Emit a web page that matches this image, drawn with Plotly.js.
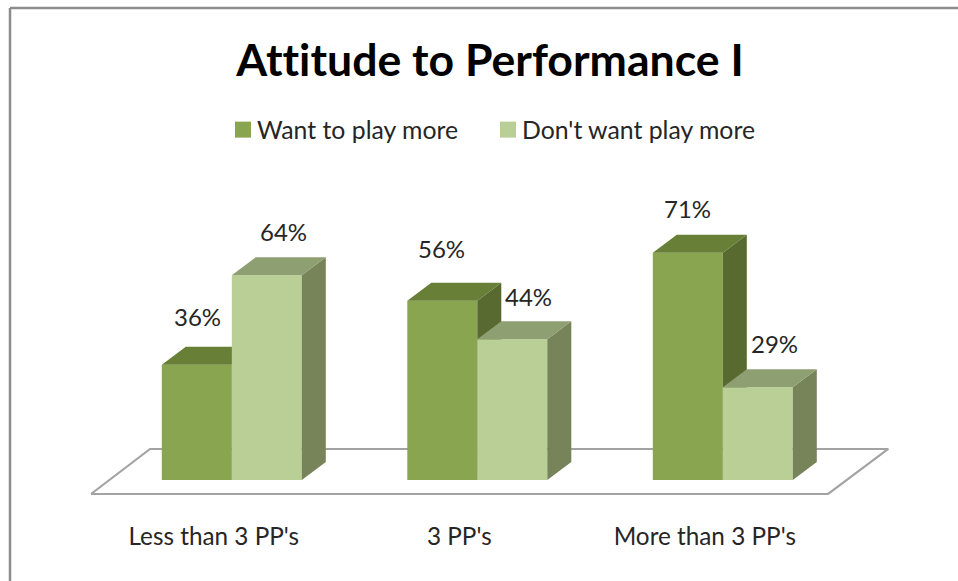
<!DOCTYPE html>
<html>
<head>
<meta charset="utf-8">
<script src="https://cdn.plot.ly/plotly-3.0.1.min.js"></script>
<style>html,body{margin:0;padding:0;background:#fff}#c{width:958px;height:581px}svg text{font-variant-ligatures:none!important;font-feature-settings:"liga" 0,"clig" 0,"dlig" 0!important}</style>
</head>
<body>
<div id="c"></div>
<script>
const categories = ["Less than 3 PP's", "3 PP's", "More than 3 PP's"];
const seriesNames = ["Want to play more", "Don't want play more"];
const wantMore = [36, 56, 71];
const dontWant = [64, 44, 29];

const FONT = 'Lato, Carlito, sans-serif';
const INK = '#262626';
const pxPerCat = 245.5, pxPerUnit = 3.2;
const L = 60, R = 48, T = 160, B = 69;
const W = 958, H = 581;
const xMin = (L - 231.8) / pxPerCat;
const xMax = xMin + (W - L - R) / pxPerCat;
const barW = 70 / pxPerCat;
const dx = 24 / pxPerCat, dy = 18 / pxPerUnit;

function faces(vals, offset) {
  const side = {x: [], y: []}, top = {x: [], y: []};
  vals.forEach((v, i) => {
    const a = i + offset, b = a + barW;
    side.x.push(b, b + dx, b + dx, b, b, null);
    side.y.push(0, dy, v + dy, v, 0, null);
    top.x.push(a, a + dx, b + dx, b, a, null);
    top.y.push(v, v + dy, v + dy, v, v, null);
  });
  return {side, top};
}
function poly(p, color, z) {
  return {type: 'scatter', mode: 'lines', x: p.x, y: p.y, fill: 'toself', fillcolor: color,
    line: {width: 0, color: color}, hoverinfo: 'skip', showlegend: false, zorder: z};
}
const fa = faces(wantMore, -barW);
const fb = faces(dontWant, 0);

const floorX = [-0.5735, -0.333, 2.674, 2.429, -0.5735];
const floorY = [-4.375, 9.69, 9.69, -4.375, -4.375];

const traces = [
  {type: 'scatter', mode: 'lines', x: floorX, y: floorY, fill: 'toself', fillcolor: '#fff',
   line: {width: 2.2, color: '#a3a3a3'}, hoverinfo: 'skip', showlegend: false, zorder: -1},
  {type: 'bar', name: seriesNames[0], x: [0, 1, 2], y: wantMore, marker: {color: '#8aa550', line: {width: 0}}, zorder: 0},
  poly(fa.side, '#586a30', 1),
  poly(fa.top, '#677f37', 1),
  {type: 'bar', name: seriesNames[1], x: [0, 1, 2], y: dontWant, marker: {color: '#b9cf96', line: {width: 0}}, zorder: 2},
  poly(fb.side, '#778459', 3),
  poly(fb.top, '#8e9f72', 3)
];

const labelShiftA = [1, -1, 0], labelLiftA = [48, 52, 44];
const labelShiftB = [17, 16, 17], labelLiftB = [44, 43, 44];
const annotations = [];
wantMore.forEach((v, i) => annotations.push({x: i - barW / 2, y: v, text: v + '%', showarrow: false,
  xshift: labelShiftA[i], yshift: labelLiftA[i], font: {family: FONT, size: 24, color: INK}}));
dontWant.forEach((v, i) => annotations.push({x: i + barW / 2, y: v, text: v + '%', showarrow: false,
  xshift: labelShiftB[i], yshift: labelLiftB[i], font: {family: FONT, size: 24, color: INK}}));

const layout = {
  width: W, height: H,
  margin: {l: L, r: R, t: T, b: B, pad: 0, autoexpand: false},
  paper_bgcolor: '#fff', plot_bgcolor: 'rgba(0,0,0,0)',
  title: {text: '<b>Attitude to Performance I</b>', x: 490 / W, xanchor: 'center', y: 1 - 60 / H, yanchor: 'middle',
    font: {family: FONT, size: 44.6, color: '#000'}},
  barmode: 'group', bargap: 1 - 140 / pxPerCat, bargroupgap: 0,
  xaxis: {type: 'linear', range: [xMin, xMax], tickmode: 'array', tickvals: [0, 1, 2], ticktext: categories,
    showgrid: false, zeroline: false, showline: false, ticks: '', ticklabelshift: -18, ticklabelstandoff: 8,
    tickfont: {family: FONT, size: 24.3, color: INK}, fixedrange: true},
  yaxis: {range: [-10, 100], showgrid: false, zeroline: false, showline: false, showticklabels: false, ticks: '', fixedrange: true},
  legend: {orientation: 'h', x: (217 - L) / (W - L - R), xanchor: 'left', y: (H - B - 107) / (H - T - B), yanchor: 'top',
    entrywidthmode: 'pixels', entrywidth: 220, font: {family: FONT, size: 24.8, color: INK}, bgcolor: 'rgba(0,0,0,0)', traceorder: 'normal'},
  annotations: annotations,
  shapes: [
    {type: 'line', xref: 'paper', yref: 'paper', x0: -50 / (W - L - R), x1: (W - L) / (W - L - R), y0: (H - B - 8) / (H - T - B), y1: (H - B - 8) / (H - T - B), line: {color: '#8c8c8c', width: 2.5}},
    {type: 'line', xref: 'paper', yref: 'paper', x0: -50 / (W - L - R), x1: -50 / (W - L - R), y0: (H - B - 8) / (H - T - B), y1: -B / (H - T - B), line: {color: '#8c8c8c', width: 2.5}}
  ]
};
Plotly.newPlot('c', traces, layout, {displayModeBar: false, responsive: false}).then(gd => {
  gd.querySelectorAll('.legend .legendpoints path').forEach(p => {
    p.setAttribute('d', 'M8,8H-8V-8H8Z');
    p.setAttribute('transform', 'translate(26,0)');
  });
  gd.querySelectorAll('.legend [clip-path]').forEach(n => n.removeAttribute('clip-path'));
  gd.querySelectorAll('.legend .scrollbox').forEach(n => { n.style.clipPath = 'none'; });
});
</script>
</body>
</html>
